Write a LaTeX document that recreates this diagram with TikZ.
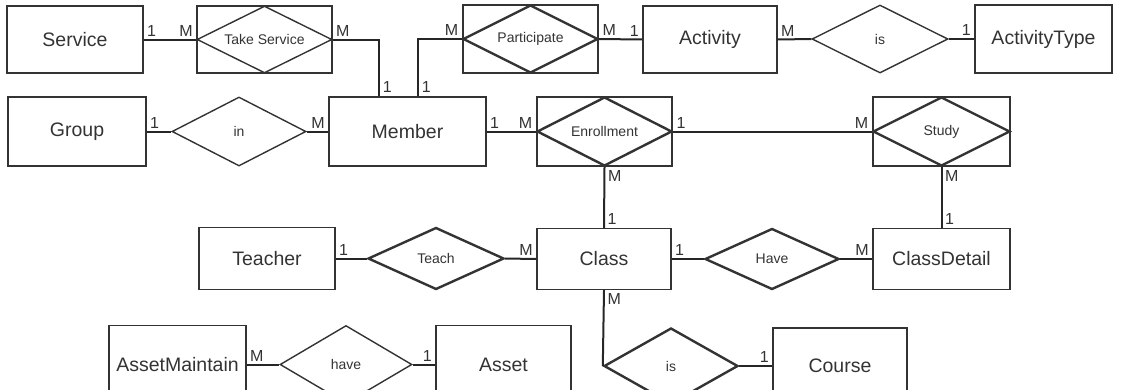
\documentclass[tikz,border=0pt]{standalone}
\usepackage{fontspec}
\setmainfont{Liberation Sans}
\usetikzlibrary{shapes.geometric, positioning, calc}

\tikzset{
  ent/.style={draw=black!80, line width=1.4pt, rectangle, inner sep=0pt, text=black!80, font=\fontsize{19.5}{22}\selectfont},
  entbold/.style={ent, line width=2.4pt},
  rel/.style={draw=black!80, line width=1.4pt, diamond, aspect=2, inner sep=0pt, text=black!80, font=\fontsize{14}{16}\selectfont},
  relbold/.style={rel, line width=2.4pt},
  card/.style={inner sep=2.5pt, text=black!80, font=\fontsize{16}{18}\selectfont},
  link/.style={draw=black!85, line width=2pt},
}

\begin{document}
\begin{tikzpicture}[x=1pt, y=-1pt]
	\useasboundingbox (0,0) rectangle (1122,389);
	\clip (0,0) rectangle (1122,389);
	% row 1
	\draw (75,39.5) node[ent, minimum width=136pt, minimum height=67pt] (service) {Service}
		(264.5,39.5) node[ent, minimum width=135pt, minimum height=67pt] (takesvcbox) {}
		(264.5,39.5) node[rel, minimum width=135pt, minimum height=67pt] (takesvc) {Take Service}
		(530.5,39) node[entbold, minimum width=135pt, minimum height=68pt] (participbox) {}
		(530.5,39) node[relbold, minimum width=135pt, minimum height=68pt] (particip) {Participate}
		(710,39.5) node[ent, minimum width=134pt, minimum height=67pt] (activity) {Activity}
		(880,39) node[rel, minimum width=136pt, minimum height=68pt] (istype) {is}
		(1043.5,39) node[ent, minimum width=137pt, minimum height=68pt] (acttype) {ActivityType};
	% row 2
	\draw (77,131.5) node[ent, minimum width=138pt, minimum height=69pt] (group) {Group}
		(239,131.5) node[rel, minimum width=134pt, minimum height=69pt] (ingroup) {in}
		(407.5,131.5) node[ent, minimum width=157pt, minimum height=69pt] (member) {Member}
		(604.5,131.5) node[entbold, minimum width=135pt, minimum height=69pt] (enrollbox) {}
		(604.5,131.5) node[relbold, minimum width=135pt, minimum height=69pt] (enroll) {Enrollment}
		(941.5,131.5) node[entbold, minimum width=137pt, minimum height=69pt] (studybox) {}
		(941.5,131.5) node[relbold, minimum width=137pt, minimum height=69pt] (study) {Study};
	% row 3
	\draw (267,258.5) node[ent, minimum width=136pt, minimum height=62pt] (teacher) {Teacher}
		(436,258.5) node[relbold, minimum width=136pt, minimum height=62pt] (teach) {Teach}
		(604,259) node[ent, minimum width=134pt, minimum height=61pt] (class) {Class}
		(772,259) node[relbold, minimum width=134pt, minimum height=61pt] (have) {Have}
		(941.5,259) node[ent, minimum width=137pt, minimum height=61pt] (classdet) {ClassDetail};
	% row 4
	\draw (177.5,364.5) node[ent, minimum width=137pt, minimum height=78pt] (assetmnt) {AssetMaintain}
		(346,364.5) node[rel, minimum width=132pt, minimum height=78pt] (haveasset) {have}
		(503.5,364.5) node[ent, minimum width=135pt, minimum height=78pt] (asset) {Asset}
		(671,366) node[relbold, minimum width=134pt, minimum height=76pt] (iscourse) {is}
		(840,366) node[ent, minimum width=134pt, minimum height=76pt] (course) {Course};

	\coordinate (memts) at ($(member.north west)+(51,0)$);
	\coordinate (mempa) at ($(member.north west)+(90,0)$);

	\draw[link] (service.east) -- node[card, at start, above right] {1} node[card, at end, above left] {M} (takesvc.west);
	\draw[link] (takesvc.east) -| node[card, at start, above right] {M} node[card, at end, above right] {1} (memts);
	\draw[link] (mempa) |- node[card, at start, above right] {1} node[card, at end, above left] {M} (particip.west);
	\draw[link] (particip.east) -- node[card, at start, above right] {M} node[card, at end, above left] {1} (activity.west);
	\draw[link] (activity.east) -- node[card, at start, above right] {M} (istype.west);
	\draw[link] (istype.east) -- node[card, at end, above left] {1} (acttype.west);
	\draw[link] (group.east) -- node[card, at start, above right] {1} (ingroup.west);
	\draw[link] (ingroup.east) -- node[card, at end, above left] {M} (member.west);
	\draw[link] (member.east) -- node[card, at start, above right] {1} node[card, at end, above left] {M} (enroll.west);
	\draw[link] (enroll.east) -- node[card, at start, above right] {1} node[card, at end, above left] {M} (study.west);
	\draw[link] (enroll.south) -- node[card, at start, below right] {M} node[card, at end, above right] {1} (class.north);
	\draw[link] (study.south) -- node[card, at start, below right] {M} node[card, at end, above right] {1} (classdet.north);
	\draw[link] (teacher.east) -- node[card, at start, above right] {1} (teach.west);
	\draw[link] (teach.east) -- node[card, at end, above left] {M} (class.west);
	\draw[link] (class.east) -- node[card, at start, above right] {1} (have.west);
	\draw[link] (have.east) -- node[card, at end, above left] {M} (classdet.west);
	\draw[link] (class.south) -- node[card, at start, below right] {M} (iscourse.west);
	\draw[link] (iscourse.east) -- node[card, at end, above left] {1} (course.west);
	\draw[link] (assetmnt.east) -- node[card, at start, above right] {M} (haveasset.west);
	\draw[link] (haveasset.east) -- node[card, at end, above left] {1} (asset.west);
\end{tikzpicture}
\end{document}
